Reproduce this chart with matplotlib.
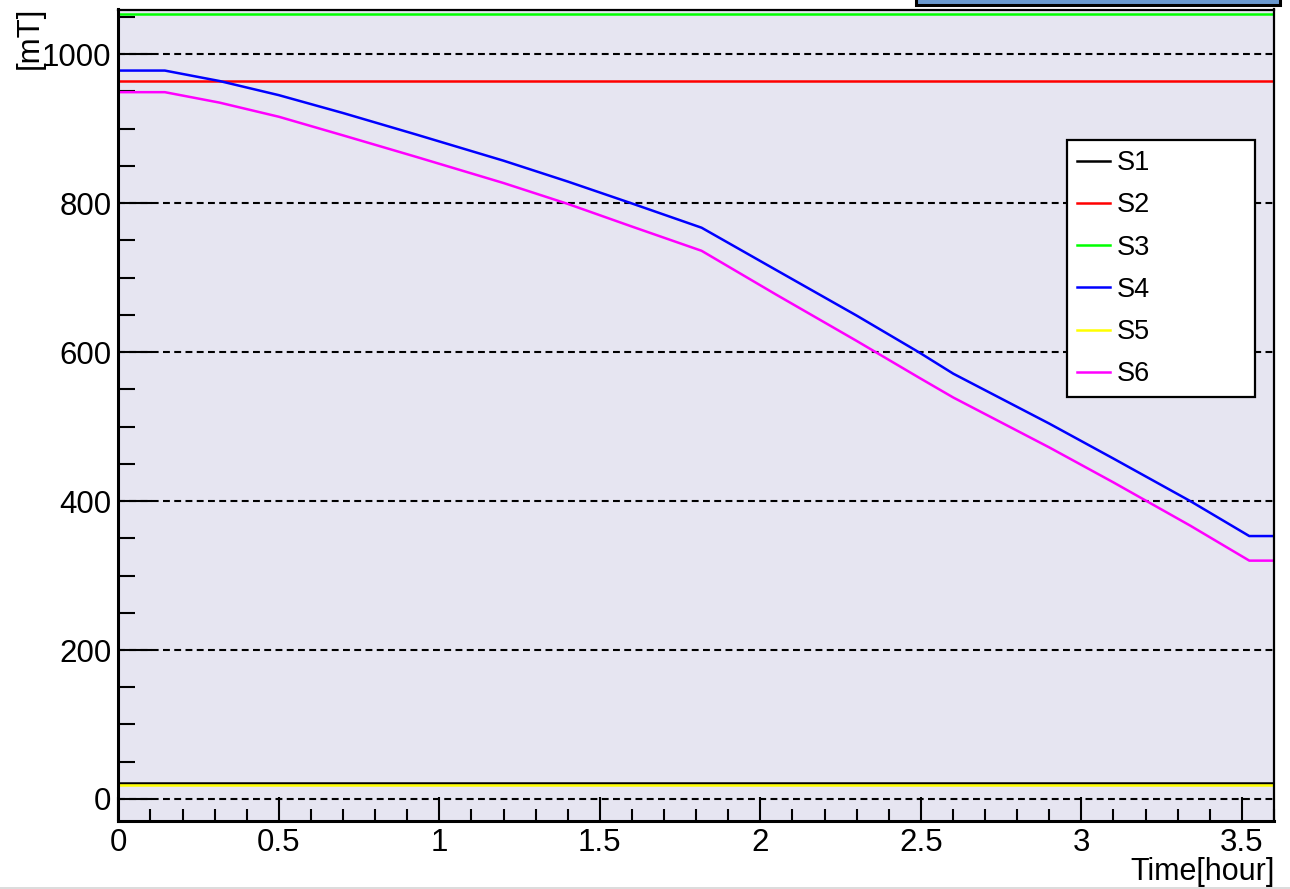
import matplotlib
matplotlib.use("Agg")
import matplotlib.pyplot as plt
from matplotlib.patches import Rectangle
from matplotlib.ticker import MultipleLocator

plt.rcParams["font.family"] = ["Liberation Sans", "DejaVu Sans"]

# time axis [hour] and field values [mT]
t_flat = [0.0, 3.6]
s1_flat = [21, 21]
s2_flat = [964, 964]
s3_flat = [1054, 1054]
s5_flat = [19, 19]

t_curve = [0.0, 0.145, 0.315, 0.5, 0.7, 0.929, 1.2, 1.4, 1.597, 1.817,
           2.05, 2.3, 2.493, 2.601, 2.9, 3.1, 3.339, 3.523, 3.6]
s4_curve = [978, 978, 964, 945, 921, 892, 857, 829, 800, 767,
            710, 649, 600, 571, 504, 457, 400, 353, 353]
s6_curve = [949, 949, 935, 916, 891, 862, 827, 799, 769, 736,
            677, 615, 566, 539, 472, 425, 367, 320, 320]


def main() -> None:
    W, H = 1290, 889
    fig = plt.figure(figsize=(W / 100, H / 100), dpi=100)
    ax_l, ax_r, ax_t, ax_b = 118.3, 1274, 9.5, 821
    ax = fig.add_axes([ax_l / W, 1 - ax_b / H, (ax_r - ax_l) / W, (ax_b - ax_t) / H])
    ax.set_facecolor("#e6e5f1")

    lw = 1.8
    ax.plot(t_flat, s1_flat, color="black", lw=lw, label="S1")
    ax.plot(t_flat, s2_flat, color="#ff0000", lw=lw, label="S2")
    ax.plot(t_flat, s3_flat, color="#00ff00", lw=lw, label="S3")
    ax.plot(t_curve, s4_curve, color="#0000ff", lw=lw, label="S4")
    ax.plot(t_flat, s5_flat, color="#ffff00", lw=lw, label="S5")
    ax.plot(t_curve, s6_curve, color="#ff00ff", lw=lw, label="S6")

    ax.set_xlim(0, 3.6)
    ax.set_ylim(-29.6, 1060)

    ax.xaxis.set_major_locator(MultipleLocator(0.5))
    ax.xaxis.set_minor_locator(MultipleLocator(0.1))
    ax.yaxis.set_major_locator(MultipleLocator(200))
    ax.yaxis.set_minor_locator(MultipleLocator(50))
    ax.xaxis.set_major_formatter(plt.FuncFormatter(lambda v, p: f"{v:g}"))

    ax.tick_params(axis="both", which="both", direction="in", top=False, right=False,
                   width=1.5, labelsize=22.5)
    ax.tick_params(axis="y", which="major", length=24.5, pad=5)
    ax.tick_params(axis="y", which="minor", length=12.2)
    ax.tick_params(axis="x", which="major", length=17.3, pad=5)
    ax.tick_params(axis="x", which="minor", length=8.6)

    ax.set_axisbelow(True)
    ax.yaxis.grid(True, which="major", color="black", lw=1.5, linestyle=(0, (3.3, 2.1)))

    for side in ("left", "bottom"):
        ax.spines[side].set_linewidth(2.2)
    for side in ("top", "right"):
        ax.spines[side].set_linewidth(1.6)

    # legend frame: x 1066.7..1255, top at 140 px
    lx0 = (1066.7 - ax_l) / (ax_r - ax_l)
    lw_ = (1255 - 1066.7) / (ax_r - ax_l)
    ly1 = (ax_b - 140) / (ax_b - ax_t)
    leg = ax.legend(loc="upper left", bbox_to_anchor=(lx0, ly1 - 0.3, lw_, 0.3),
                    mode="expand", fontsize=19.5, frameon=True, fancybox=False,
                    framealpha=1, edgecolor="black", handlelength=1.22,
                    handletextpad=0.26, labelspacing=0.6, borderpad=0.37,
                    borderaxespad=0)
    leg.get_frame().set_linewidth(1.6)

    fig.text(30 / W, 1 - 7 / H, "[mT]", rotation=90, ha="center", va="top", fontsize=22.5)
    fig.text(1275 / W, 1 - 880 / H, "Time[hour]", ha="right", va="baseline", fontsize=22)

    # title box peeking in at the top right
    fig.patches.append(Rectangle((916 / W, 1 - 4.7 / H), (1280 - 916) / W, 0.05,
                                 transform=fig.transFigure, facecolor="#6a99cf",
                                 edgecolor="black", lw=2.2))
    fig.patches.append(Rectangle((0, 0), 1, 2 / H, transform=fig.transFigure,
                                 facecolor="#dcdcdc", edgecolor="none"))

    fig.savefig("out.png", dpi=100)


if __name__ == "__main__":
    main()
